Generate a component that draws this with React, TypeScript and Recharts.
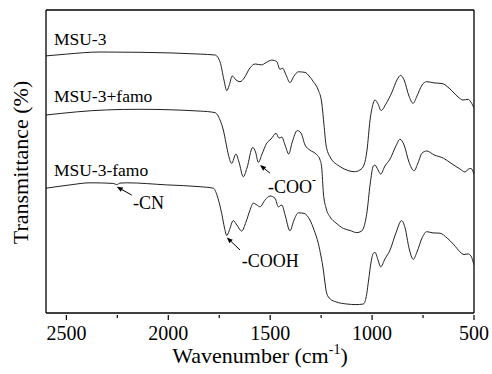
import React from "react";
import { LineChart, Line, XAxis, YAxis, ReferenceLine, ReferenceDot } from "recharts";

// wavenumber (cm-1) and transmittance (a.u., offset)
const msu3Wave = [2600, 2500, 2335, 2139, 1844, 1771, 1746, 1727, 1713, 1702, 1686, 1668, 1648, 1628, 1599, 1574, 1542, 1520, 1492, 1468, 1452, 1439, 1422, 1403, 1383, 1362, 1329, 1309, 1288, 1264, 1247, 1236, 1226, 1206, 1157, 1118, 1089, 1059, 1040, 1025, 1010, 994, 986, 971, 956, 932, 902, 878, 860, 843, 819, 799, 780, 755, 732, 696, 657, 618, 578, 554, 529, 515, 500];
const msu3T = [85.7, 86.3, 87, 86.9, 86.3, 86, 83.7, 77.7, 74.1, 75.7, 79, 77.7, 77.1, 78.3, 81.7, 83, 82.7, 83.5, 84.3, 83.8, 81.2, 81.6, 79.3, 76.8, 79, 80.4, 80.2, 79, 77.1, 74.3, 70, 62.7, 56, 52, 48.8, 47.5, 47.1, 47.7, 49.3, 54.3, 64.3, 70, 71, 69.7, 67.5, 69.7, 73.7, 77.7, 79.2, 77.7, 72.3, 69.9, 72.3, 76, 77.1, 76.7, 76.5, 74.7, 72, 71, 71.2, 70.3, 68.3];

const famoWave = [2600, 2302, 2139, 1844, 1771, 1746, 1730, 1717, 1705, 1689, 1668, 1653, 1632, 1614, 1586, 1572, 1558, 1540, 1517, 1496, 1471, 1457, 1443, 1427, 1409, 1393, 1367, 1349, 1329, 1305, 1272, 1255, 1247, 1239, 1226, 1206, 1177, 1141, 1108, 1075, 1054, 1040, 1025, 1010, 994, 986, 971, 958, 937, 912, 883, 863, 843, 819, 794, 775, 755, 732, 696, 650, 608, 569, 544, 529, 515, 500];
const famoT = [66, 67.7, 67.9, 67.3, 66.8, 64.3, 61, 56.7, 52.7, 49.9, 53, 50.3, 45.4, 48.3, 55.2, 53.7, 50.2, 53, 56.6, 58, 59.9, 58.3, 58.6, 56, 53, 56.7, 60.8, 60, 56, 54.3, 52.8, 51, 48.3, 40, 35, 32, 30, 28.2, 27.5, 26.8, 27.2, 28.7, 33.7, 42.7, 49, 49.3, 47.7, 46.3, 49, 51.3, 55.7, 57.9, 56, 50.3, 47.4, 50, 53.3, 54, 52.7, 51.6, 49.7, 48, 47, 47.9, 48.2, 46.3];

const loadedWave = [2600, 2482, 2384, 2270, 2253, 2237, 2204, 2008, 1844, 1779, 1761, 1738, 1724, 1713, 1702, 1681, 1663, 1640, 1619, 1599, 1583, 1565, 1550, 1525, 1501, 1476, 1460, 1443, 1427, 1403, 1383, 1362, 1334, 1305, 1285, 1264, 1251, 1239, 1231, 1223, 1206, 1177, 1124, 1079, 1043, 1030, 1017, 1005, 994, 986, 971, 958, 937, 912, 883, 855, 838, 819, 798, 780, 755, 732, 701, 667, 632, 598, 569, 549, 529, 515, 500];
const loadedT = [41.6, 42.7, 43.4, 43.2, 42.8, 43.3, 43.4, 42.7, 42.1, 41.6, 39.3, 33.2, 28.3, 25.8, 27.3, 30.8, 29.3, 27.3, 30.3, 34.3, 36.6, 36, 35.4, 37.7, 39, 38.2, 35.4, 36, 32.7, 27.4, 31, 33.4, 33.2, 31, 27.7, 23.2, 19, 14.3, 10, 6.6, 4.7, 3.7, 3, 2.8, 3, 5, 11, 17, 19.9, 20.2, 17.7, 15.4, 18, 21, 26.7, 30.8, 28.3, 21.7, 17.9, 20.3, 25, 27.1, 26.7, 26.6, 25, 22.7, 20.4, 19.5, 19.7, 19, 16];

const majorTicks = [2500, 2000, 1500, 1000, 500];
const allTicks = [2500, 2250, 2000, 1750, 1500, 1250, 1000, 750, 500];

const zip = (w: number[], t: number[]) => w.map((x, i) => ({ w: x, t: t[i] }));

const series = [
  { name: "MSU-3", data: zip(msu3Wave, msu3T), labelAt: { x: 2561, y: 89.3 } },
  { name: "MSU-3+famo", data: zip(famoWave, famoT), labelAt: { x: 2561, y: 70.4 } },
  { name: "MSU-3-famo", data: zip(loadedWave, loadedT), labelAt: { x: 2561, y: 45.7 } },
];

const arrows = [
  { from: { x: 2179, y: 39.3 }, to: { x: 2253, y: 42.1 } },
  { from: { x: 1648, y: 21 }, to: { x: 1713, y: 25.2 } },
  { from: { x: 1501, y: 46.6 }, to: { x: 1550, y: 49.3 } },
];

const serif = { fontFamily: "'Liberation Serif', 'Times New Roman', 'DejaVu Serif', serif" };

const BottomTick = (props: any) => {
  const { x, y, payload } = props;
  const major = majorTicks.includes(payload.value);
  return (
    <g>
      <line x1={x} y1={y} x2={x} y2={y + (major ? 5 : 3)} stroke="#000" strokeWidth={1.2} />
      {major && (
        <text x={x} y={y + 25} textAnchor="middle" fontSize={20} style={serif} fill="#000">
          {payload.value}
        </text>
      )}
    </g>
  );
};

const Arrow = (p: any) => {
  const { x1, y1, x2, y2 } = p;
  const a = Math.atan2(y2 - y1, x2 - x1);
  const L = 6;
  const W = 2.4;
  const bx = x2 - L * Math.cos(a);
  const by = y2 - L * Math.sin(a);
  const px = -Math.sin(a) * W;
  const py = Math.cos(a) * W;
  return (
    <g>
      <line x1={x1} y1={y1} x2={bx} y2={by} stroke="#000" strokeWidth={1} />
      <polygon points={`${x2},${y2} ${bx + px},${by + py} ${bx - px},${by - py}`} fill="#000" />
    </g>
  );
};

const textAt = (content: React.ReactNode, size: number) => (p: any) => (
  <text x={p.cx} y={p.cy} fontSize={size} style={serif} fill="#000">
    {content}
  </text>
);

const frame = { stroke: "#000", strokeWidth: 1.3 };

export default function App() {
  return (
    <div style={{ position: "absolute", left: 0, top: 0, background: "#fff", ...serif }}>
      <LineChart width={492} height={374} margin={{ top: 10, right: 18, bottom: 0, left: 0 }} style={serif}>
        <XAxis
          dataKey="w"
          type="number"
          domain={[500, 2600]}
          reversed
          allowDataOverflow
          ticks={allTicks}
          interval={0}
          tickSize={0}
          tickLine={false}
          tick={<BottomTick />}
          height={61}
          axisLine={frame}
          label={{
            content: (p: any) => {
              const vb = p.viewBox;
              return (
                <text x={vb.x + vb.width / 2} y={vb.y + 50} textAnchor="middle" fontSize={22} style={serif} fill="#000">
                  Wavenumber (cm
                  <tspan fontSize={14} dy={-9}>-1</tspan>
                  <tspan dy={9}>)</tspan>
                </text>
              );
            },
          }}
        />
        <YAxis
          type="number"
          domain={[0, 101]}
          width={46}
          tick={false}
          tickLine={false}
          axisLine={frame}
          label={{
            content: (p: any) => {
              const vb = p.viewBox;
              const cx = 28;
              const cy = vb.y + vb.height / 2 + 1;
              return (
                <text x={cx} y={cy} transform={`rotate(-90 ${cx} ${cy})`} textAnchor="middle" fontSize={22} style={serif} fill="#000">
                  Transmittance (%)
                </text>
              );
            },
          }}
        />
        <ReferenceLine y={101} stroke="#000" strokeWidth={1.3} />
        <ReferenceLine x={500} stroke="#000" strokeWidth={1.3} />
        {series.map((s) => (
          <Line
            key={s.name}
            data={s.data}
            dataKey="t"
            type="monotone"
            stroke="#222"
            strokeWidth={1}
            dot={false}
            activeDot={false}
            isAnimationActive={false}
          />
        ))}
        {series.map((s) => (
          <ReferenceDot key={"l" + s.name} x={s.labelAt.x} y={s.labelAt.y} shape={textAt(s.name, 17.5)} />
        ))}
        {arrows.map((a, i) => (
          <ReferenceLine key={"a" + i} segment={[a.from, a.to]} shape={<Arrow />} />
        ))}
        <ReferenceDot x={2173} y={34.7} shape={textAt("-CN", 18)} />
        <ReferenceDot x={1640} y={15.4} shape={textAt("-COOH", 18)} />
        <ReferenceDot
          x={1511}
          y={40.1}
          shape={textAt(
            <>
              -COO<tspan fontSize={12} dy={-9}>-</tspan>
            </>,
            18
          )}
        />
      </LineChart>
    </div>
  );
}
